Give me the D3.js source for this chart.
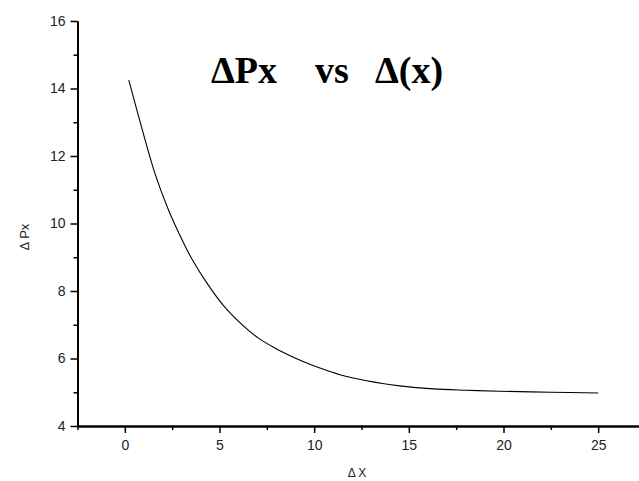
<!DOCTYPE html>
<html><head><meta charset="utf-8">
<script src="https://cdn.jsdelivr.net/npm/d3@7"></script>
<style>body{margin:0;background:#fff}svg{display:block}</style>
</head><body>
<svg id="c" width="639" height="481"></svg>
<script>
const dx = [0.21, 0.88, 1.58, 2.29, 2.85, 3.52, 4.40, 5.28, 6.16, 7.04, 7.92, 8.81, 9.51, 10.3, 11.36, 12.77, 14.53, 16.29, 18.05, 19.81, 22.5, 25.0];
const dpx = [14.25, 12.86, 11.50, 10.42, 9.72, 8.97, 8.18, 7.52, 7.02, 6.61, 6.31, 6.06, 5.89, 5.72, 5.52, 5.34, 5.19, 5.10, 5.06, 5.03, 5.00, 4.98];
const xMajor = [0, 5, 10, 15, 20, 25];
const xMinor = [-2.5, 2.5, 7.5, 12.5, 17.5, 22.5, 27.5];
const yMajor = [4, 6, 8, 10, 12, 14, 16];
const yMinor = [5, 7, 9, 11, 13, 15];
const title = ["\u0394Px", "vs", "\u0394(x)"];
const xLabel = "\u0394 X";
const yLabel = "\u0394 Px";

const svg = d3.select("#c");
const x = d3.scaleLinear().domain([-2.5, 27.5]).range([77.5, 645.5]);
const y = d3.scaleLinear().domain([4, 16]).range([426, 21]);

function styleAxis(g){
  g.select(".domain").attr("stroke","#000").attr("stroke-width",2);
  g.selectAll(".tick line").attr("stroke","#000").attr("stroke-width",1.5);
  g.selectAll(".tick text").attr("fill","#222").attr("font-family","Liberation Sans, Arial, sans-serif").attr("font-size",14);
}
// y axis
svg.append("g").attr("transform","translate(77.5,0)")
  .call(d3.axisLeft(y).tickValues(yMinor).tickSize(4).tickFormat("").tickSizeOuter(0))
  .call(styleAxis);
svg.append("g").attr("transform","translate(77.5,0)")
  .call(d3.axisLeft(y).tickValues(yMajor).tickSize(7).tickPadding(5).tickSizeOuter(0).tickFormat(d3.format("d")))
  .call(styleAxis);
// x axis
svg.append("g").attr("transform","translate(0,426)")
  .call(d3.axisBottom(x).tickValues(xMinor).tickSize(4).tickFormat("").tickSizeOuter(0))
  .call(styleAxis);
svg.append("g").attr("transform","translate(0,426)")
  .call(d3.axisBottom(x).tickValues(xMajor).tickSize(7).tickPadding(7).tickSizeOuter(0).tickFormat(d3.format("d")))
  .call(styleAxis);

// curve
const line = d3.line().x((d,i)=>x(dx[i])).y((d,i)=>y(dpx[i])).curve(d3.curveCatmullRom.alpha(0.5));
svg.append("path").datum(dx).attr("d", line).attr("fill","none").attr("stroke","#000").attr("stroke-width",1.1);

// title
const tpos = [211, 315, 375];
const t = svg.append("text").attr("y",83).attr("font-family","Liberation Serif, Times New Roman, serif")
  .attr("font-weight","bold").attr("font-size",38).attr("fill","#000");
title.forEach((s,i)=>t.append("tspan").attr("x",tpos[i]).text(s));

// axis labels
svg.append("text").attr("x",357).attr("y",477).attr("text-anchor","middle")
  .attr("font-family","Liberation Sans, Arial, sans-serif").attr("font-size",12).attr("fill","#222").text(xLabel);
svg.append("text").attr("transform","translate(28.5,237) rotate(-90)").attr("text-anchor","middle")
  .attr("font-family","Liberation Sans, Arial, sans-serif").attr("font-size",13).attr("fill","#222").text(yLabel);
</script>
</body></html>
